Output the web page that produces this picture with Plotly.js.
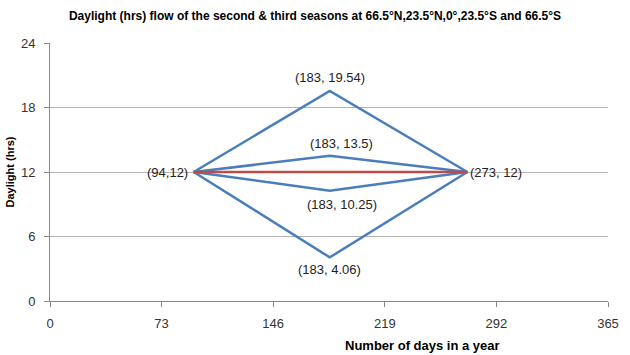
<!DOCTYPE html>
<html>
<head>
<meta charset="utf-8">
<script src="https://cdn.plot.ly/plotly-3.0.1.min.js"></script>
<style>html,body{margin:0;padding:0;background:#fff;}#chart{width:630px;height:355px;}</style>
</head>
<body>
<div id="chart"></div>
<script>
// Days of the year at the three points of each curve
var days = [94, 183, 273];
// Daylight hours per latitude
var lat66N = [12, 19.54, 12];
var lat23N = [12, 13.5, 12];
var lat0 = [12, 12, 12];
var lat23S = [12, 10.25, 12];
var lat66S = [12, 4.06, 12];
var xTicks = [0, 73, 146, 219, 292, 365];
var yTicks = [0, 6, 12, 18, 24];

var blue = '#4a7ebb', red = '#be4b48';
var FONT = '"Liberation Sans Narrow", "Arial Narrow", "Liberation Sans", sans-serif';

function line(y, color) {
  return {x: days, y: y, mode: 'lines', type: 'scatter',
    line: {color: color, width: 2.5}, hoverinfo: 'skip', showlegend: false, cliponaxis: false};
}
var traces = [
  line(lat66N, blue), line(lat23N, blue), line(lat23S, blue), line(lat66S, blue), line(lat0, red)
];

function fmt(x, y, sp) { return '(' + x + ',' + (sp ? ' ' : '') + y + ')'; }
var annotations = [
  {x: days[0], y: lat0[0], text: fmt(days[0], lat0[0], false), xanchor: 'right', yanchor: 'middle', xshift: -4},
  {x: days[2], y: lat0[2], text: fmt(days[2], lat0[2], true), xanchor: 'left', yanchor: 'middle', xshift: 1},
  {x: days[1], y: lat66N[1], text: fmt(days[1], lat66N[1], true), xanchor: 'center', yanchor: 'bottom', yshift: 4},
  {x: days[1], y: lat23N[1], text: fmt(days[1], lat23N[1], true), xanchor: 'center', yanchor: 'bottom', yshift: 3, xshift: 12},
  {x: days[1], y: lat23S[1], text: fmt(days[1], lat23S[1], true), xanchor: 'center', yanchor: 'top', yshift: -4, xshift: 12},
  {x: days[1], y: lat66S[1], text: fmt(days[1], lat66S[1], true), xanchor: 'center', yanchor: 'top', yshift: -3}
].map(function (a) {
  a.showarrow = false; a.font = {family: FONT, size: 13, color: '#222'}; return a;
});
annotations.push({xref: 'paper', yref: 'paper', x: 0.668, y: -0.174, xanchor: 'center', yanchor: 'middle',
  showarrow: false, text: '<b>Number of days in a year</b>', font: {family: FONT, size: 13, color: '#000'}});

var layout = {
  width: 630, height: 355,
  margin: {l: 50, r: 22, t: 43, b: 54},
  paper_bgcolor: '#fff', plot_bgcolor: '#fff',
  font: {family: FONT, size: 13, color: '#333'},
  title: {text: '<b>Daylight (hrs) flow of the second &amp; third seasons at 66.5°N,23.5°N,0°,23.5°S and 66.5°S</b>',
    font: {family: FONT, size: 12, color: '#000'}, x: 0.5, xanchor: 'center', y: 0.955, yanchor: 'middle'},
  xaxis: {range: [0, 365], tickvals: xTicks, ticktext: xTicks.map(String), showgrid: false, zeroline: false,
    showline: true, linecolor: '#888', linewidth: 1, ticks: 'outside', ticklen: 5, tickcolor: '#888',
    ticklabelstandoff: 5,
    tickfont: {family: FONT, size: 13, color: '#333'}},
  yaxis: {range: [0, 24], tickvals: yTicks, ticktext: yTicks.map(String), showgrid: true, gridcolor: '#b3b3b3',
    zeroline: false, showline: true, linecolor: '#888', linewidth: 1, ticks: 'outside', ticklen: 5, tickcolor: '#888',
    ticklabelstandoff: 6,
    tickfont: {family: FONT, size: 13, color: '#333'},
    title: {text: '<b>Daylight (hrs)</b>', font: {family: FONT, size: 11, color: '#000'}, standoff: 4}},
  annotations: annotations
};
Plotly.newPlot('chart', traces, layout, {displayModeBar: false, staticPlot: true});
</script>
</body>
</html>
